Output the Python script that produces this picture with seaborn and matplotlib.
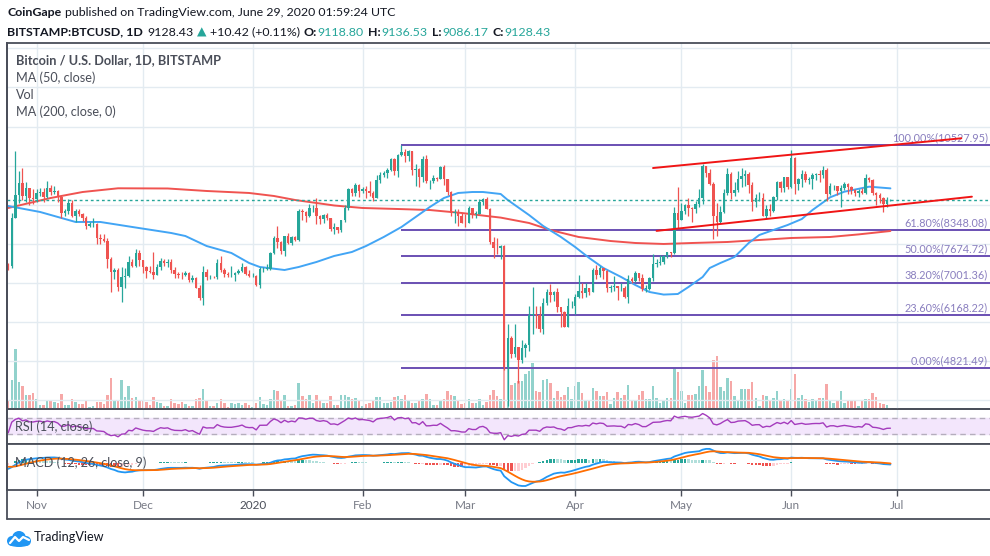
import numpy as np
import pandas as pd
import matplotlib
matplotlib.use("Agg")
import matplotlib.pyplot as plt
import matplotlib.dates as mdates
from matplotlib.lines import Line2D
from matplotlib.patches import Circle, Ellipse
import seaborn as sns

# ---- daily candles, Oct 24 2019 .. Jun 29 2020 (Bitstamp BTCUSD) ----
first_open = 7470
closes = [
    7440, 8660, 9250, 9560, 9220, 9430, 9170, 9150,
    9290, 9320, 9200, 9420, 9330, 9360, 9200, 8780, 8830, 9040, 8720, 8840, 8760, 8650, 8460,
    8500, 8500, 8160, 8130, 8070, 7620, 7290, 7340, 6900, 7140, 7170, 7530, 7430, 7760, 7580,
    7410, 7310, 7290, 7200, 7400, 7570, 7500, 7540, 7330, 7220, 7200, 7190, 7260, 7070, 7120,
    6880, 6610, 7290, 7140, 7160, 7140, 7520, 7320, 7230, 7200, 7200, 7260, 7310, 7410, 7220, 7170,
    7180, 6940, 7350, 7360, 7360, 7770, 8160, 8050, 7820, 8200, 8020, 8180, 8100, 8840, 8820,
    8720, 8910, 8910, 8700, 8630, 8730, 8660, 8390, 8430, 8340, 8600, 8910, 9390, 9290, 9510, 9340,
    9390, 9340, 9300, 9180, 9620, 9750, 9810, 9900, 10160, 9850, 10270, 10350, 10240, 10370, 9890,
    9920, 9700, 10170, 9600, 9610, 9690, 9670, 9970, 9650, 9320, 8790, 8800, 8700, 8540,
    8530, 8920, 8770, 8770, 9070, 9150, 8900, 8040, 7900, 7880, 7950, 4850, 5600, 5170, 5360,
    5020, 5330, 5410, 6190, 6200, 6190, 5830, 6490, 6770, 6690, 6760, 6370, 6250, 5880, 6400, 6420,
    6650, 6800, 6740, 6870, 6770, 7340, 7200, 7370, 7300, 6860, 6890, 6910, 6860, 6860, 6630,
    7110, 7050, 7260, 7130, 6850, 6850, 7130, 7490, 7510, 7540, 7690, 7790, 7760, 8780, 8620,
    8830, 8980, 8910, 8890, 9030, 9160, 9990, 9810, 9540, 8720, 8560, 8820, 9310, 9790, 9310,
    9380, 9670, 9730, 9780, 9510, 9060, 9170, 9180, 8720, 8900, 8840, 9200, 9580, 9420, 9700, 9450,
    10200, 9520, 9670, 9790, 9620, 9670, 9750, 9780, 9770, 9890, 9270, 9470, 9480, 9340, 9440,
    9520, 9450, 9380, 9290, 9360, 9300, 9680, 9620, 9290, 9250, 9160, 9010, 9118, 9128.43,
]
highs = [
    7520, 8800, 10370, 9850, 9950, 9590, 9430, 9400,
    9390, 9430, 9420, 9600, 9500, 9480, 9380, 9250, 8900, 9150, 9120, 8900, 8880, 8800, 8700,
    8560, 8650, 8530, 8240, 8250, 8140, 7670, 7370, 7370, 7400, 7370, 7680, 7620, 7860, 7840,
    7580, 7420, 7420, 7790, 7480, 7640, 7600, 7600, 7620, 7410, 7280, 7270, 7300, 7290, 7200,
    7150, 6940, 7430, 7360, 7190, 7180, 7620, 7700, 7370, 7280, 7430, 7290, 7360, 7520, 7430, 7320,
    7250, 7200, 7400, 7400, 7490, 7800, 8210, 8460, 8060, 8200, 8280, 8200, 8200, 8900, 8900,
    8840, 9010, 9000, 9170, 8730, 8760, 8790, 8670, 8520, 8440, 8620, 9000, 9420, 9420, 9560, 9520,
    9450, 9480, 9600, 9350, 9750, 9840, 9870, 9950, 10190, 10200, 10300, 10528, 10420, 10390, 10380,
    10050, 9950, 10250, 10260, 9640, 9750, 9700, 9980, 10020, 9650, 9360, 8900, 8880, 8800,
    8750, 8960, 8920, 8840, 9150, 9170, 9200, 8910, 8180, 8150, 7980, 7960, 5950, 5650, 5950,
    5370, 5550, 5450, 6420, 6900, 6420, 6400, 6600, 6850, 6960, 6790, 6870, 6300, 6270, 6620, 6530,
    6720, 7200, 7000, 6990, 6880, 7370, 7460, 7420, 7380, 7320, 6950, 7170, 6930, 6990, 6930,
    7200, 7150, 7300, 7250, 7220, 6950, 7160, 7750, 7600, 7710, 7710, 7800, 7800, 8950, 9460,
    9050, 9020, 9180, 8950, 9090, 9400, 10050, 9990, 9910, 9570, 9040, 8960, 9400, 9930, 9830,
    9590, 9870, 9950, 9900, 9830, 9570, 9270, 9320, 9300, 8980, 9010, 9220, 9610, 9600, 9720, 9700,
    10400, 10230, 9690, 9880, 9860, 9720, 9800, 9800, 9880, 9990, 9950, 9560, 9500, 9490, 9500,
    9570, 9550, 9480, 9400, 9400, 9430, 9780, 9710, 9670, 9330, 9290, 9200, 9190, 9136.53,
]
lows = [
    7330, 7390, 8650, 9040, 9120, 9060, 8990, 9030,
    9080, 9210, 9080, 9170, 9250, 9270, 9080, 8650, 8720, 8760, 8680, 8550, 8700, 8580, 8380,
    8420, 8440, 8000, 8000, 8040, 7390, 6770, 7110, 6780, 6500, 6870, 7160, 7400, 7400, 7430,
    7240, 7130, 7250, 7100, 7200, 7320, 7440, 7400, 7240, 7120, 7130, 7110, 7170, 7020, 7030,
    6860, 6560, 6430, 7080, 7100, 7120, 7110, 7280, 7150, 7140, 7150, 7060, 7230, 7270, 7190, 7140,
    7150, 6910, 6870, 7270, 7320, 7340, 7740, 7880, 7750, 7690, 8000, 7980, 8060, 8080, 8600,
    8560, 8680, 8810, 8500, 8510, 8520, 8600, 8330, 8240, 8280, 8290, 8550, 8870, 9210, 9210, 9200,
    9310, 9160, 9230, 9100, 9160, 9550, 9720, 9690, 9870, 9750, 9720, 10240, 10100, 10120, 9760,
    9470, 9460, 9580, 9550, 9400, 9560, 9600, 9650, 9500, 9250, 8700, 8530, 8450, 8530,
    8420, 8520, 8660, 8670, 8770, 9000, 8880, 8000, 7640, 7750, 7600, 4780, 3850, 5080, 5100,
    4450, 4950, 5090, 5260, 5700, 5850, 5750, 5690, 6440, 6500, 6540, 6260, 5880, 5870, 5860, 6350,
    6200, 6610, 6600, 6650, 6680, 6760, 7100, 7150, 7110, 6760, 6770, 6800, 6560, 6780, 6610,
    6480, 7000, 7030, 7050, 6780, 6770, 6830, 7050, 7410, 7450, 7480, 7640, 7660, 7730, 8410,
    8620, 8770, 8700, 8550, 8780, 8930, 9020, 9700, 9500, 8110, 8200, 8530, 8800, 9260, 9150,
    9220, 9330, 9460, 9480, 9290, 8840, 8940, 9090, 8700, 8630, 8700, 8810, 9110, 9330, 9330, 9400,
    9420, 9270, 9380, 9450, 9580, 9530, 9390, 9630, 9570, 9690, 9100, 9250, 9380, 9240, 8950,
    9380, 9270, 9280, 9220, 9200, 9280, 9280, 9590, 9240, 8990, 9040, 8820, 8950, 9086.17,
]
volumes = [
    8, 29, 60, 27, 23, 14, 14, 16, 10, 4, 4, 8, 8, 7, 6, 15, 4, 4, 10, 7, 5, 5, 8, 2, 3,
    7, 7, 5, 14, 31, 9, 9, 29, 12, 23, 11, 12, 8, 8, 7, 4, 12, 7, 6, 3, 3,
    10, 6, 5, 7, 5, 3, 3, 10, 11, 20, 9, 3, 3, 6, 10, 6, 2, 6, 5, 6, 4, 6, 4, 2, 6, 12, 5, 4,
    10, 19, 18, 9, 14, 3, 3, 4, 26, 13, 10, 14, 6, 14, 8, 6, 6, 13, 4,
    4, 14, 14, 12, 10, 11, 8, 3, 5, 6, 8, 12, 12, 6, 6, 7, 12, 13, 10, 14, 9, 6, 6, 9, 10,
    15, 10, 4, 4, 9, 10, 18, 14, 13, 9, 5, 6, 10, 6, 6, 10, 4, 7, 14, 19, 13,
    10, 60, 55, 24, 26, 28, 28, 35, 38, 46, 18, 17, 29, 30, 26, 11, 18, 12, 14, 22, 10, 23, 27,
    16, 8, 8, 21, 18, 13, 13, 17, 5, 11, 17, 11, 14, 24, 8, 8, 14, 18, 10, 10, 23, 11, 6, 8,
    11, 11, 41, 37, 18, 6, 14, 14, 15, 23, 39, 23, 17, 49, 53, 22, 18, 31, 28, 13, 8, 20, 20,
    20, 27, 11, 3, 14, 13, 8, 11, 18, 8, 10, 8, 20, 35, 11, 14, 10, 7, 10, 9, 11, 11, 25,
    9, 6, 8, 18, 6, 8, 9, 8, 3, 8, 10, 10, 16, 12, 6, 5, 4, 1,
]

ma50_dates = ["2019-10-24", "2019-11-02", "2019-11-12", "2019-11-19", "2019-11-28", "2019-12-09",
              "2019-12-13", "2019-12-19", "2019-12-26", "2019-12-31", "2020-01-03", "2020-01-10",
              "2020-01-14", "2020-01-19", "2020-01-24", "2020-01-29", "2020-02-02", "2020-02-07",
              "2020-02-12", "2020-02-16", "2020-02-20", "2020-02-24", "2020-02-28", "2020-03-03",
              "2020-03-06", "2020-03-11", "2020-03-13", "2020-03-19", "2020-03-23", "2020-03-28",
              "2020-04-01", "2020-04-05", "2020-04-09", "2020-04-14", "2020-04-18", "2020-04-22",
              "2020-04-26", "2020-04-30", "2020-05-03", "2020-05-07", "2020-05-09", "2020-05-12",
              "2020-05-16", "2020-05-20", "2020-05-23", "2020-05-27", "2020-05-31", "2020-06-04",
              "2020-06-07", "2020-06-12", "2020-06-16", "2020-06-23", "2020-06-29"]
ma50_vals = [8967, 8814, 8558, 8558, 8430, 8276, 8199, 7943, 7764, 7508, 7406, 7329, 7406, 7534,
             7688, 7790, 7943, 8174, 8430, 8686, 8941, 9172, 9300, 9325, 9325, 9274, 9120, 8736,
             8455, 8174, 7918, 7636, 7380, 7150, 6945, 6766, 6700, 6715, 6894, 7150, 7380, 7508,
             7662, 8020, 8225, 8353, 8481, 8634, 8864, 9190, 9333, 9461, 9418]
ma200_dates = ["2019-10-24", "2019-11-05", "2019-11-14", "2019-11-24", "2019-12-08", "2019-12-19",
               "2019-12-31", "2020-01-07", "2020-01-13", "2020-01-19", "2020-01-24", "2020-02-01",
               "2020-02-11", "2020-02-20", "2020-02-29", "2020-03-07", "2020-03-11", "2020-03-19",
               "2020-03-25", "2020-04-02", "2020-04-11", "2020-04-18", "2020-04-26", "2020-05-04",
               "2020-05-14", "2020-05-23", "2020-06-01", "2020-06-12", "2020-06-20", "2020-06-29"]
ma200_vals = [8916, 9172, 9325, 9420, 9415, 9351, 9300, 9223, 9120, 9044, 8980, 8916, 8890, 8864,
              8788, 8711, 8670, 8532, 8353, 8174, 8071, 8020, 7995, 8020, 8046, 8097, 8148, 8174,
              8240, 8327]

# fibonacci retracement and channel drawn on the chart
fib_start = "2020-02-12"
fib_pcts = [100.0, 61.8, 50.0, 38.2, 23.6, 0.0]
fib_levels = [10527.95, 8348.08, 7674.72, 7001.36, 6168.22, 4821.49]
upper_dates, upper_prices = ["2020-04-23", "2020-07-19"], [9939, 10700]
lower_dates, lower_prices = ["2020-04-24", "2020-07-22"], [8330, 9205]
last_price = 9128.43

# indicator state at the left edge
ema12_seed, ema26_seed, signal_seed = 8000, 8250, -150
gain_seed, loss_seed = 50, 100

month_ticks = ["2019-11-01", "2019-12-01", "2020-01-01", "2020-02-01", "2020-03-01",
               "2020-04-01", "2020-05-01", "2020-06-01", "2020-07-01"]
month_labels = ["Nov", "Dec", "2020", "Feb", "Mar", "Apr", "May", "Jun", "Jul"]

# ---------------------------------------------------------------------------
sns.set_theme(style="white")
plt.rcParams["font.family"] = ["Lato", "DejaVu Sans"]

UP, DOWN = "#26a69a", "#ef5350"
FRAME = "#4a4e59"
GRID = "#e3ebf1"
W, H = 990, 556

dates = pd.date_range("2019-10-24", "2020-06-29", freq="D")
x = mdates.date2num(dates)
c = np.array(closes, float)
o = np.r_[first_open, c[:-1]]
hi = np.array(highs, float)
lo = np.array(lows, float)
up = c >= o
col = np.where(up, UP, DOWN)

# indicators
ema12 = pd.Series(np.r_[ema12_seed, c]).ewm(span=12, adjust=False).mean().values[1:]
ema26 = pd.Series(np.r_[ema26_seed, c]).ewm(span=26, adjust=False).mean().values[1:]
macd = ema12 - ema26
signal = pd.Series(np.r_[signal_seed, macd]).ewm(span=9, adjust=False).mean().values[1:]
hist = macd - signal
diff = np.diff(np.r_[first_open, c])
g = pd.Series(np.r_[gain_seed, np.clip(diff, 0, None)]).ewm(alpha=1 / 14, adjust=False).mean().values[1:]
l_ = pd.Series(np.r_[loss_seed, np.clip(-diff, 0, None)]).ewm(alpha=1 / 14, adjust=False).mean().values[1:]
rsi = 100 - 100 / (1 + g / l_)

fig = plt.figure(figsize=(9.9, 5.56), dpi=100)
renderer = fig.canvas.get_renderer()


def box(top, bottom):
    return [7 / W, 1 - bottom / H, 983 / W, (bottom - top) / H]


def fit(t, width):
    # scale a text so that it spans the same pixel width as in the reference
    w = t.get_window_extent(renderer).width
    t.set_fontsize(t.get_fontsize() * width / w)
    return t


ax = fig.add_axes(box(43, 409))
ax_rsi = fig.add_axes(box(409, 444), sharex=ax)
ax_macd = fig.add_axes(box(444, 490), sharex=ax)

x0 = mdates.date2num(pd.Timestamp("2019-10-24")) - 0.34
ax.set_xlim(x0, x0 + 983 / 3.543)
ax.set_ylim(3772, 13138)

tick_x = mdates.date2num(pd.to_datetime(month_ticks))
for a in (ax, ax_rsi, ax_macd):
    a.set_facecolor("white")
    for t in tick_x:
        a.axvline(t, color=GRID, lw=1, zorder=0)
    for s in a.spines.values():
        s.set_color(FRAME)
        s.set_linewidth(1.3)
    a.spines["right"].set_visible(False)
    a.set_yticks([])
    a.tick_params(left=False, labelleft=False, bottom=False, labelbottom=False)
for lvl in range(4000, 14000, 1000):
    ax.axhline(lvl, color=GRID, lw=1, zorder=0)

# volume overlay
vax = ax.twinx()
vax.set_ylim(0, max(volumes) * 6.1)
vax.bar(x, volumes, width=0.7, color=col, alpha=0.5, linewidth=0, zorder=1)
vax.axis("off")
ax.set_zorder(vax.get_zorder() + 1)
ax.patch.set_visible(False)

# fibonacci levels
fx = mdates.date2num(pd.Timestamp(fib_start))
xr = ax.get_xlim()[1]
fib_size = None
for pct, lvl in zip(fib_pcts, fib_levels):
    ax.hlines(lvl, fx, xr, color="#6a4fb3", lw=1.4, zorder=2)
    t = ax.text(xr - 0.6, lvl + 55, f"{pct:.2f}%({lvl:.2f})", ha="right", va="bottom",
                fontsize=8.5, color="#8a7fbf", zorder=6)
    if fib_size is None:
        fib_size = fit(t, 95).get_fontsize()
    t.set_fontsize(fib_size)

# moving averages
sns.lineplot(x=mdates.date2num(pd.to_datetime(ma200_dates)), y=ma200_vals, ax=ax,
             color="#f05350", lw=1.4, zorder=3)
sns.lineplot(x=mdates.date2num(pd.to_datetime(ma50_dates)), y=ma50_vals, ax=ax,
             color="#42a5f5", lw=1.4, zorder=3)

# candles
ax.vlines(x, lo, hi, color=col, lw=0.9, zorder=4)
body_h = np.maximum(np.abs(c - o), 12)
ax.bar(x, body_h, bottom=np.minimum(o, c), width=0.7, color=col, linewidth=0, zorder=5)

# last price and channel
ax.axhline(last_price, color=UP, lw=1, ls=(0, (2, 2)), zorder=3)
ax.plot(mdates.date2num(pd.to_datetime(upper_dates)), upper_prices, color="#f01515", lw=1.4, zorder=6)
ax.plot(mdates.date2num(pd.to_datetime(lower_dates)), lower_prices, color="#f01515", lw=1.4, zorder=6)
ax.set_xlabel("")
ax.set_ylabel("")

# RSI pane
ax_rsi.set_ylim(5, 92.5)
ax_rsi.axhspan(30, 70, color="#f3e6fc", zorder=0.5)
for lvl in (30, 70):
    ax_rsi.axhline(lvl, color="#b5aebd", lw=1, ls=(0, (4, 3)), zorder=1)
sns.lineplot(x=x, y=rsi, ax=ax_rsi, color="#a43bbd", lw=1, zorder=3)
ax_rsi.set_xlabel("")
ax_rsi.set_ylabel("")

# MACD pane
span = -macd.min() / 23
ax_macd.set_ylim(-27 * span, 19 * span)
prev = np.r_[hist[0], hist[:-1]]
hcol = np.where(hist >= 0, np.where(hist > prev, "#26a69a", "#b2dfdb"),
                np.where(hist < prev, "#ef5350", "#ffcdd2"))
ax_macd.bar(x, hist, width=0.7, color=hcol, linewidth=0, zorder=2)
sns.lineplot(x=x, y=macd, ax=ax_macd, color="#2196f3", lw=1.3, zorder=3)
sns.lineplot(x=x, y=signal, ax=ax_macd, color="#ff6d00", lw=1.3, zorder=3)
ax_macd.set_xlabel("")
ax_macd.set_ylabel("")
ax_macd.set_yticks([])
ax_macd.set_xticks(tick_x)
ax_macd.set_xticklabels(month_labels)
ax_macd.tick_params(bottom=True, labelbottom=True, direction="out", length=4, width=1,
                    color=FRAME, labelsize=8.5, labelcolor="#787b86", pad=3)
ax_macd.get_xticklabels()[2].set_color("#4a4e59")

# frame pieces outside the axes
fig.add_artist(Line2D([7 / W, 1], [1 - 519 / H] * 2, color=FRAME, lw=1.3))
fig.add_artist(Line2D([7 / W] * 2, [1 - 519 / H, 1 - 43 / H], color=FRAME, lw=1.3))

# pane legends
LEG = "#4a4e59"
t = fit(fig.text(16 / W, 1 - 60 / H, "Bitcoin / U.S. Dollar, 1D, BITSTAMP", fontsize=9,
                 fontweight="bold", color=LEG, va="center"), 204)
t = fit(fig.text(16 / W, 1 - 112 / H, "MA (200, close, 0)", fontsize=9, color=LEG, va="center"), 100)
leg_size = t.get_fontsize()
fig.text(16 / W, 1 - 78 / H, "MA (50, close)", fontsize=leg_size, color=LEG, va="center")
fig.text(16 / W, 1 - 95 / H, "Vol", fontsize=leg_size, color=LEG, va="center")
fit(fig.text(15 / W, 1 - 427 / H, "RSI (14, close)", fontsize=9, color=LEG, va="center",
             zorder=10), 77)
fit(fig.text(15 / W, 1 - 463 / H, "MACD (12, 26, close, 9)", fontsize=9, color=LEG, va="center",
             zorder=10), 131)


# header rows
def text_row(px, py, parts, size, width):
    made = []
    start = px
    for s, colr, wt, gap in parts:
        t = fig.text(px / W, 1 - py / H, s, color=colr, fontsize=size, fontweight=wt, va="center")
        made.append(t)
        px += t.get_window_extent(renderer).width + gap
    k = width / (px - start)
    px = start
    for t, (s, colr, wt, gap) in zip(made, parts):
        t.set_fontsize(size * k)
        t.set_x(px / W)
        px += t.get_window_extent(renderer).width + gap * k


INK = "#131722"
text_row(7, 12, [("CoinGape", INK, "bold", 4),
                 ("published on TradingView.com, June 29, 2020 01:59:24 UTC", INK, "normal", 0)],
         9.5, 393)
text_row(7, 32, [("BITSTAMP:BTCUSD, 1D", INK, "bold", 5), ("9128.43", INK, "normal", 3),
                 ("▲", UP, "normal", 3), ("+10.42 (+0.11%)", INK, "normal", 4),
                 ("O:", INK, "bold", 1), ("9118.80", UP, "normal", 4),
                 ("H:", INK, "bold", 1), ("9136.53", UP, "normal", 4),
                 ("L:", INK, "bold", 1), ("9086.17", UP, "normal", 4),
                 ("C:", INK, "bold", 1), ("9128.43", UP, "normal", 0)], 9, 544)

# footer logo
lax = fig.add_axes([7 / W, 1 - 547 / H, 24 / W, 18 / H])
lax.set_xlim(0, 24)
lax.set_ylim(0, 18)
lax.axis("off")
for cx, cy, rr in [(5, 6, 5), (12, 9, 7), (19, 6, 5)]:
    lax.add_patch(Circle((cx, cy), rr, color="#2196f3", lw=0))
lax.add_patch(Ellipse((12, 4), 22, 8, color="#2196f3", lw=0))
lax.plot([3, 8, 12, 16, 22], [4, 10, 6, 10, 7], color="white", lw=1.6)
fit(fig.text(34 / W, 1 - 537 / H, "TradingView", fontsize=10.5, color=INK, va="center"), 71)

fig.savefig("out.png", dpi=100)
